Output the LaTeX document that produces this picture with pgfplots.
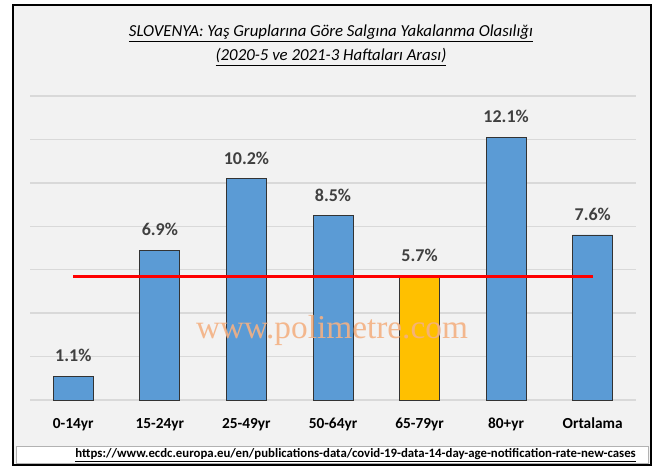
\documentclass[border=0pt]{standalone}
\usepackage{pgfplots}
\pgfplotsset{compat=1.18}
\usepackage{fontspec}
\setmainfont{Carlito}
\newfontfamily\wmfont{Liberation Serif}
\definecolor{cblue}{HTML}{5B9BD5}
\definecolor{cyell}{HTML}{FFC000}
\definecolor{cgrid}{HTML}{D9D9D9}
\definecolor{cbg}{HTML}{F2F2F2}
\definecolor{clab}{HTML}{404040}
\definecolor{cwm}{HTML}{F4B183}
\definecolor{cred}{HTML}{FF0000}
\begin{document}
\begin{tikzpicture}[x=0.75pt,y=-0.75pt]
\path[use as bounding box, fill=white] (0,0) rectangle (667,468);
\draw[black, line width=1.6pt, fill=cbg] (13,5) rectangle (651,465);
\draw[gray!60, line width=0.6pt, fill=white] (16,446) rectangle (648,463);
\node[font=\itshape\fontsize{12.6}{14}\selectfont] at (331,33) {\underline{SLOVENYA: Yaş Gruplarına Göre Salgına Yakalanma Olasılığı}};
\node[font=\itshape\fontsize{12.6}{14}\selectfont] at (331,57) {\underline{(2020-5 ve 2021-3 Haftaları Arası)}};
\begin{axis}[
  at={(22.5pt,-300pt)}, anchor=south west,
  scale only axis, width=454.5pt, height=228pt,
  xmin=-0.5, xmax=6.5, ymin=0, ymax=14,
  ytick={0,2,...,14}, yticklabels={},
  ymajorgrids, grid style={cgrid, line width=1.1pt},
  axis line style={draw=none}, major tick length=0pt,
  xtick={0,...,6},
  xticklabels={0-14yr,15-24yr,25-49yr,50-64yr,65-79yr,80+yr,Ortalama},
  xticklabel style={font=\bfseries\fontsize{11.5}{13}\selectfont, text=black, yshift=-10pt},
  /pgf/number format/assume math mode=true,
  nodes near coords={\pgfmathprintnumber[fixed,precision=1,fixed zerofill]{\pgfplotspointmeta}\%},
  every node near coord/.append style={font=\bfseries\fontsize{13.5}{15}\selectfont, text=clab, yshift=7pt},
  clip=false,
]
\addplot[ybar, bar width=30pt, bar shift=0pt, fill=cblue, draw=black!80, line width=0.6pt]
  coordinates {(0,1.1) (1,6.9) (2,10.2) (3,8.5) (5,12.1) (6,7.6)};
\addplot[ybar, bar width=30pt, bar shift=0pt, fill=cyell, draw=black!80, line width=0.6pt]
  coordinates {(4,5.7)};
\addplot[cred, line width=2.3pt, nodes near coords={}] coordinates {(0,5.7) (6,5.7)};
\end{axis}
\node[font=\wmfont\fontsize{25}{26}\selectfont, text=cwm, opacity=0.9] at (332,330) {www.polimetre.com};
\node[font=\bfseries\fontsize{9.6}{12}\selectfont, anchor=east, inner sep=0pt] at (636,455) {\underline{https://www.ecdc.europa.eu/en/publications-data/covid-19-data-14-day-age-notification-rate-new-cases}};
\end{tikzpicture}
\end{document}
